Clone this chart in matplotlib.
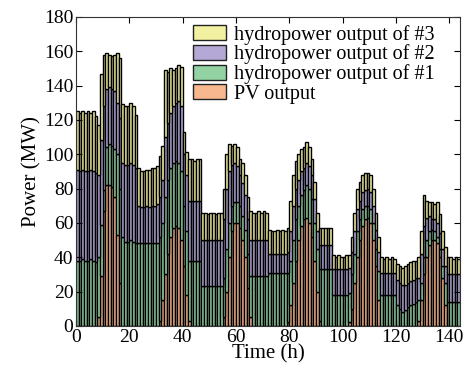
import numpy as np
import matplotlib
matplotlib.use("Agg")
import matplotlib.pyplot as plt

plt.rcParams['font.family'] = ['Liberation Serif', 'DejaVu Serif']

# hourly outputs (MW), 6 days x 24 h
pv = [0, 0, 0, 0, 0, 0, 0, 0, 5, 29, 67, 82, 82, 81, 75, 53, 25, 0, 0, 0, 0, 0, 0, 0,
      0, 0, 0, 0, 0, 0, 0, 3, 15, 30, 42, 52, 57, 58, 57, 50, 35, 18, 3, 0, 0, 0, 0, 0,
      0, 0, 0, 0, 0, 0, 0, 5, 20, 40, 55, 60, 60, 57, 50, 40, 22, 5, 0, 0, 0, 0, 0, 0,
      0, 0, 0, 0, 0, 0, 0, 2, 12, 25, 38, 50, 58, 62, 63, 60, 52, 38, 20, 3, 0, 0, 0, 0,
      0, 0, 0, 0, 0, 0, 2, 10, 25, 40, 50, 58, 62, 63, 60, 50, 35, 15, 0, 0, 0, 0, 0, 0,
      0, 0, 0, 0, 0, 0, 0, 0, 3, 15, 30, 40, 47, 50, 50, 48, 40, 28, 12, 0, 0, 0, 0, 0]

hydro1 = [38, 38, 39, 38, 38, 39, 38, 37, 35, 30, 12, 22, 24, 24, 28, 47, 55, 52, 49, 49, 50, 49, 48, 48,
          48, 48, 48, 48, 48, 48, 48, 49, 45, 45, 43, 40, 38, 38, 38, 40, 35, 37, 35, 38, 38, 38, 38, 23,
          23, 23, 23, 23, 23, 23, 23, 23, 25, 20, 15, 12, 12, 13, 14, 16, 20, 24, 29, 29, 29, 29, 29, 29,
          31, 31, 31, 31, 31, 31, 31, 29, 26, 25, 24, 20, 18, 17, 19, 20, 22, 22, 25, 30, 33, 33, 33, 33,
          18, 18, 18, 18, 18, 18, 17, 20, 17, 15, 12, 10, 8, 7, 8, 10, 10, 17, 18, 18, 18, 18, 18, 18,
          12, 10, 8, 9, 11, 12, 13, 14, 12, 10, 10, 10, 8, 6, 5, 4, 5, 7, 13, 14, 14, 14, 14, 14]

hydro2 = [53, 52, 52, 52, 52, 52, 52, 52, 48, 49, 49, 34, 33, 33, 34, 30, 41, 43, 45, 45, 45, 45, 44, 22,
          21, 21, 22, 21, 22, 22, 23, 23, 25, 35, 33, 32, 33, 34, 36, 38, 30, 33, 35, 35, 35, 35, 35, 27,
          27, 27, 27, 27, 27, 27, 27, 34, 35, 30, 24, 23, 21, 18, 19, 20, 20, 21, 21, 21, 21, 21, 21, 21,
          11, 11, 11, 11, 11, 11, 11, 12, 17, 20, 18, 15, 14, 13, 13, 13, 14, 14, 10, 14, 14, 14, 14, 14,
          15, 15, 15, 15, 15, 15, 15, 13, 13, 13, 11, 10, 9, 10, 10, 10, 11, 11, 13, 13, 13, 13, 13, 13,
          15, 15, 16, 15, 14, 14, 14, 14, 13, 17, 18, 13, 9, 6, 7, 8, 9, 10, 10, 16, 16, 16, 16, 16]

hydro3 = [34, 34, 34, 34, 35, 33, 35, 33, 29, 39, 30, 21, 19, 19, 21, 29, 35, 34, 34, 34, 35, 34, 31, 22,
          21, 21, 21, 22, 22, 22, 22, 24, 20, 39, 30, 26, 21, 20, 21, 23, 13, 13, 24, 24, 23, 24, 24, 16,
          16, 15, 16, 16, 15, 16, 16, 18, 20, 16, 11, 11, 11, 9, 12, 12, 13, 17, 16, 16, 17, 16, 17, 16,
          14, 13, 13, 14, 13, 14, 13, 14, 18, 18, 16, 15, 13, 12, 12, 11, 9, 10, 11, 10, 10, 10, 10, 10,
          8, 7, 8, 7, 7, 8, 7, 9, 11, 12, 11, 10, 10, 9, 10, 10, 10, 9, 9, 8, 9, 8, 9, 8,
          9, 10, 10, 11, 11, 11, 11, 10, 12, 13, 18, 10, 8, 10, 9, 12, 11, 10, 11, 10, 10, 9, 10, 9]

hours = np.arange(len(pv)) + 0.5

c_pv = '#f7b88f'
c_h1 = '#93d3a3'
c_h2 = '#b4a8d6'
c_h3 = '#f2f0a1'

fig = plt.figure(figsize=(4.67, 3.75), dpi=100)
ax = fig.add_axes([0.163, 0.131, 0.822, 0.824])

pv_a = np.array(pv, dtype=float)
h1_a = np.array(hydro1, dtype=float)
h2_a = np.array(hydro2, dtype=float)
h3_a = np.array(hydro3, dtype=float)

kw = dict(width=1.0, edgecolor='black', linewidth=1.0)
b_pv = ax.bar(hours, pv_a, color=c_pv, label='PV output', **kw)
b_h1 = ax.bar(hours, h1_a, bottom=pv_a, color=c_h1, label='hydropower output of #1', **kw)
b_h2 = ax.bar(hours, h2_a, bottom=pv_a + h1_a, color=c_h2, label='hydropower output of #2', **kw)
b_h3 = ax.bar(hours, h3_a, bottom=pv_a + h1_a + h2_a, color=c_h3, label='hydropower output of #3', **kw)

ax.set_xlim(0, 144)
ax.set_ylim(0, 180)
ax.set_xticks(np.arange(0, 141, 20))
ax.set_yticks(np.arange(0, 181, 20))
ax.tick_params(direction='in', top=True, right=True, labelsize=14, length=4, width=0.8, pad=2)
for s in ax.spines.values():
    s.set_linewidth(0.8)
    s.set_color('#333333')

ax.set_xlabel('Time (h)', fontsize=15, labelpad=-1)
ax.set_ylabel('Power (MW)', fontsize=15, labelpad=2)

leg = ax.legend(handles=[b_h3, b_h2, b_h1, b_pv], loc='upper left',
                bbox_to_anchor=(0.305, 0.975), frameon=False, fontsize=14.5,
                borderpad=0, borderaxespad=0, labelspacing=0.0,
                handlelength=1.65, handleheight=0.75, handletextpad=0.4)
for p in leg.get_patches():
    p.set_edgecolor('#222222')
    p.set_linewidth(1.0)

fig.savefig('out.png', dpi=100)
